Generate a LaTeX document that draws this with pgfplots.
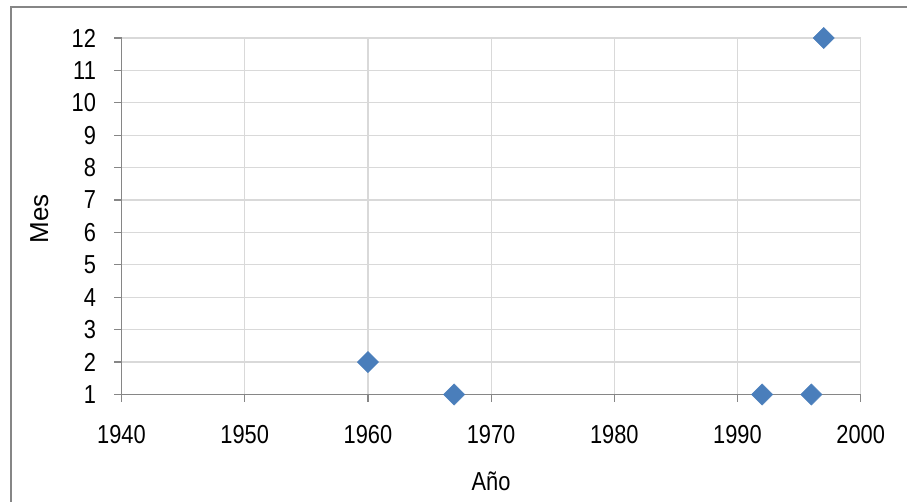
\documentclass[border=0pt]{standalone}
\usepackage{fontspec}
\setmainfont{Liberation Sans}[FakeStretch=0.84]
\newfontfamily\plainsans{Liberation Sans}
\usepackage{pgfplots}
\pgfplotsset{compat=1.18}
\definecolor{gridc}{HTML}{D9D9D9}
\definecolor{axc}{HTML}{868686}
\definecolor{mkc}{HTML}{4A7EBB}
\begin{document}
\begin{tikzpicture}[x=0.75pt,y=-0.75pt]
\useasboundingbox (0,0) rectangle (907,502);
\fill[white] (0,0) rectangle (907,502);
\draw[axc, line width=1.3pt] (11,510) -- (11,7.3) -- (915,7.3);
\begin{axis}[
  at={(91.125pt,-295.875pt)}, anchor=south west,
  scale only axis, width=554.4pt, height=267.4pt,
  xmin=1940, xmax=2000, ymin=1, ymax=12,
  xtick={1940,1950,...,2000}, ytick={1,2,...,12},
  axis x line*=bottom, axis y line*=left,
  axis line style={axc, line width=0.9pt, -},
  grid=major, major grid style={gridc, line width=0.9pt},
  tick align=outside, major tick length=5.6pt,
  tick style={axc, line width=0.9pt},
  /pgf/number format/assume math mode=true,
  /pgf/number format/1000 sep={},
  ticklabel style={font=\fontsize{19.5pt}{22pt}\selectfont},
  yticklabel style={anchor=east, inner sep=0pt, xshift=-13.4pt},
  xticklabel style={anchor=north, inner sep=0pt, yshift=-17.4pt},
  clip=false,
]
\addplot[only marks, mark=square*, mark size=5.6pt, mark options={rotate=45, fill=mkc, draw=mkc}]
  coordinates {(1960,2) (1967,1) (1992,1) (1996,1) (1997,12)};
\end{axis}
\node[anchor=base, font=\fontsize{19.5pt}{22pt}\selectfont] at (491,490) {Año};
\node[anchor=base, rotate=90, font=\plainsans\fontsize{19.5pt}{22pt}\selectfont] at (48,219) {Mes};
\end{tikzpicture}
\end{document}
